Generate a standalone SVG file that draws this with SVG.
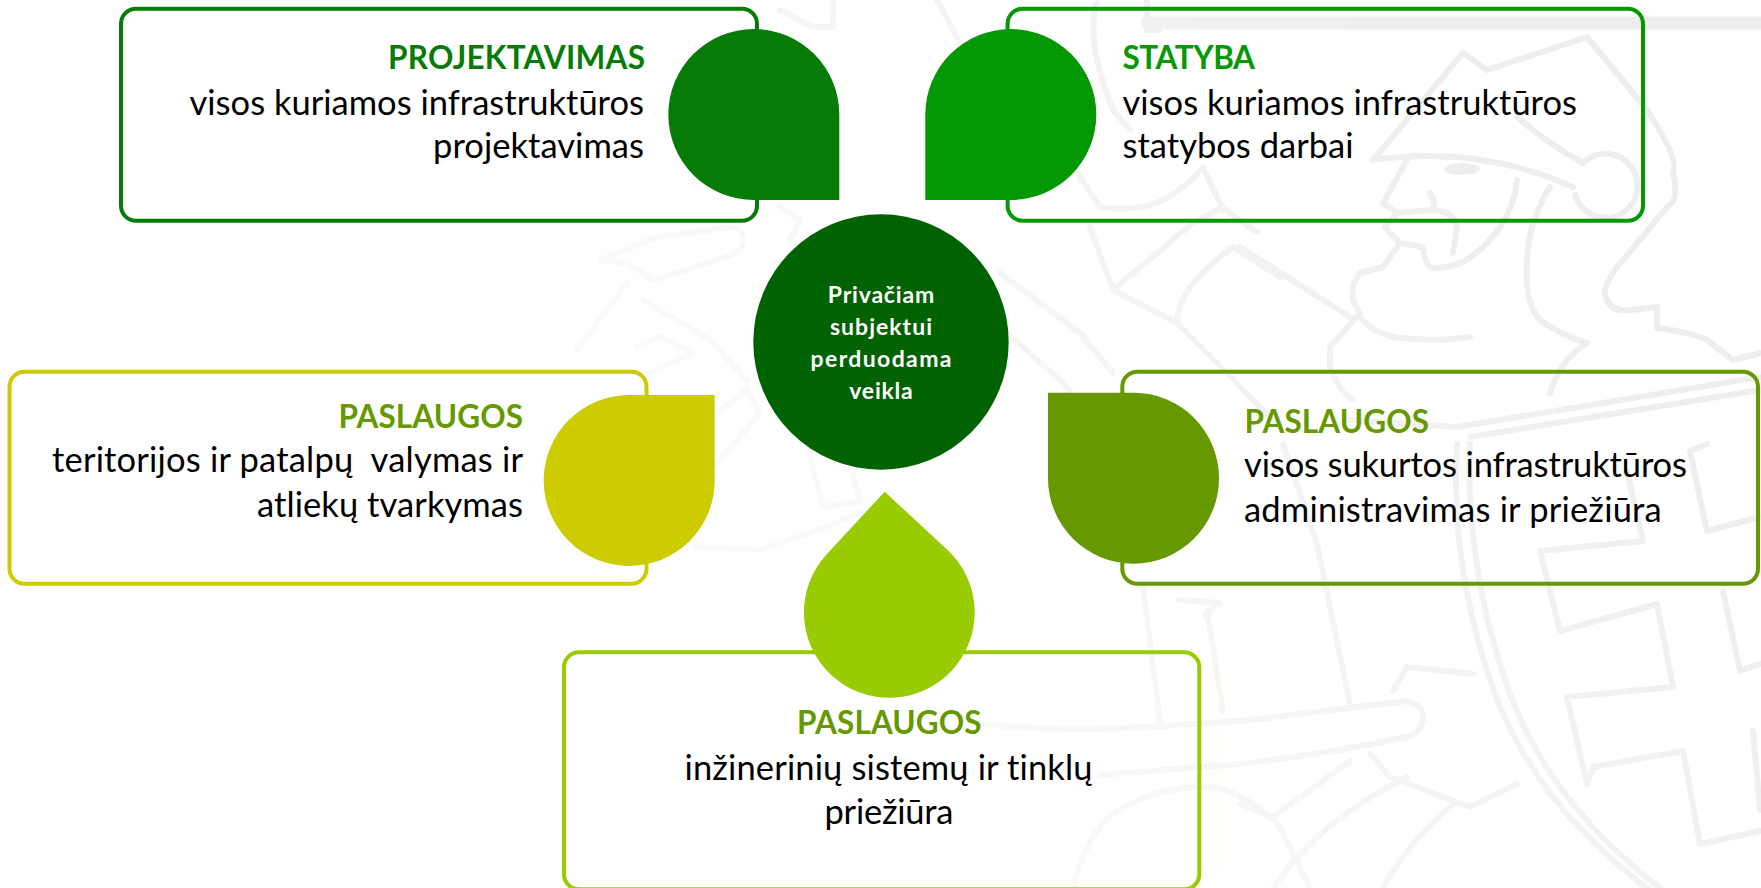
<svg xmlns="http://www.w3.org/2000/svg" width="1761" height="888" viewBox="0 0 1761 888">
<style>
text{font-family:Lato,"Carlito","Open Sans",sans-serif;font-size:34.5px;fill:#000;white-space:pre;font-variant-ligatures:none}
.t{font-weight:700;font-size:31.5px}
.e{text-anchor:end}
.m{text-anchor:middle}
.c{font-size:23px;font-weight:700;fill:#fff}
.box{fill:none;stroke-width:4}
.wm path{fill:none;stroke:url(#wmg);stroke-width:6;stroke-linejoin:round;stroke-linecap:round}
</style>
<defs>
<linearGradient id="wmg" gradientUnits="userSpaceOnUse" x1="650" y1="650" x2="1450" y2="100">
<stop offset="0" stop-color="#fcfcfc"/><stop offset="0.55" stop-color="#f5f5f5"/><stop offset="1" stop-color="#eeeeee"/>
</linearGradient>
</defs>
<rect width="1761" height="888" fill="#fff"/>
<g id="watermark" class="wm">
<path style="stroke-width:13" d="M1147,23H1761"/>
<path d="M1147,0V30H1160"/>
<path d="M1097,0Q1085,40 1113,110L1130,130"/>
<path d="M1373,160L1463,53L1487,70L1587,37L1647,110Q1680,160 1673,173Q1680,200 1667,207Q1640,240 1617,267Q1600,290 1607,300Q1612,312 1630,310L1657,307V328Q1690,332 1707,340L1733,360L1761,353"/>
<path d="M1373,160Q1480,145 1573,187"/>
<path d="M1517,117Q1550,145 1583,163"/>
<path d="M1583,163A32,32 0 1 1 1575,195"/>
<path d="M1407,160L1383,203L1397,213L1385,227L1400,243L1383,267L1360,273Q1350,285 1353,300L1360,313L1330,347V367Q1338,390 1353,400"/>
<path d="M1397,213L1433,210Q1455,212 1457,227L1453,253"/>
<path d="M1430,193Q1436,200 1433,210"/>
<path d="M1400,243L1423,247Q1425,265 1432,268Q1470,270 1500,227Q1515,205 1517,180"/>
<path d="M1550,187Q1530,220 1528,250Q1522,300 1540,320Q1560,335 1587,343Q1560,360 1550,393"/>
<path d="M1360,317Q1375,335 1400,338Q1440,342 1470,337"/>
<ellipse cx="1462" cy="169" rx="18" ry="6" fill="#eeeeee"/>
<path d="M1240,247L1350,317"/>
<path d="M1223,207Q1245,225 1257,232"/>
<path d="M1457,427L1760,377"/>
<path d="M1470,437L1760,390"/>
<path d="M1350,420L1457,427"/>
<path d="M1457,444Q1450,560 1490,680Q1530,800 1647,888"/>
<path d="M1470,444Q1465,560 1505,680Q1545,800 1660,888"/>
<path d="M1627,471L1643,541L1540,551L1560,631L1657,604L1673,687L1567,697L1587,784L1593,767L1683,751L1700,844L1760,831"/>
<path d="M1707,444L1690,451L1707,531L1760,517"/>
<path d="M1723,591L1740,671L1760,664"/>
<path d="M1753,731L1760,810"/>
<path d="M980,724Q1060,732 1147,727L1240,721L1407,701Q1423,705 1423,717Q1422,732 1407,737Q1320,755 1240,764L1100,775"/>
<path d="M1283,444L1317,544L1350,704"/>
<path d="M1143,587L1160,721"/>
<path d="M1207,611L1223,711"/>
<path d="M1178,600L1220,603L1205,615"/>
<path d="M1393,691L1407,667L1473,674"/>
<path d="M1370,754L1390,777L1470,807L1517,784"/>
<path d="M1240,804L1273,817L1350,761"/>
<path d="M1273,888Q1320,820 1407,777"/>
<path d="M1383,888Q1410,840 1453,804"/>
<path d="M1073,888Q1090,820 1130,804Q1170,785 1213,787Q1250,795 1280,827L1310,888"/>
<path d="M1000,273L1080,333L1113,373"/>
<path d="M1007,333L1063,383L1113,443"/>
<path d="M1113,290L1193,223L1223,207"/>
<path d="M1090,227L1113,290L1177,323L1227,373L1280,427"/>
<path d="M1177,320Q1180,285 1233,247L1280,277"/>
<path d="M1073,167L1100,207Q1130,212 1157,203Q1185,190 1203,167L1223,210"/>
<path d="M937,0L960,43"/>
<path d="M780,10L813,27H833V0"/>
<path d="M780,207L800,220L790,240"/>
<path d="M600,260L657,237L733,227Q745,232 743,243Q740,252 727,257L653,280L627,263L600,260"/>
<path d="M627,283L577,350"/>
<path d="M643,300L710,340L747,380"/>
<path d="M637,347L660,337L693,353L650,373"/>
<path d="M717,413L747,390L760,413L717,463"/>
<path d="M693,547L760,550L810,533L860,513"/>
<path d="M807,444L823,507L860,501L853,474"/>
</g>
<g id="node-projektavimas">
<rect class="box" x="121" y="8.7" width="636" height="212" rx="15" stroke="#067c06"/>
<path fill="#067c06" d="M839.3,200H753.8A85.5,85.5 0 1 1 839.3,114.5Z"/>
<text class="t e" x="645" y="69" style="fill:#067c06" textLength="257">PROJEKTAVIMAS</text>
<text class="e" x="644" y="115" textLength="454.5">visos kuriamos infrastruktūros</text>
<text class="e" x="644" y="158.3" textLength="211">projektavimas</text>
</g>
<g id="node-statyba">
<rect class="box" x="1007.6" y="8.7" width="635.4" height="212" rx="15" stroke="#049904"/>
<path fill="#049904" d="M925.3,200H1010.8A85.5,85.5 0 1 0 925.3,114.5Z"/>
<text class="t" x="1122.5" y="69" style="fill:#049904" textLength="132.5">STATYBA</text>
<text x="1122.5" y="115" textLength="454.5">visos kuriamos infrastruktūros</text>
<text x="1122.5" y="158.3" textLength="231">statybos darbai</text>
</g>
<g id="node-paslaugos-valymas">
<rect class="box" x="9.5" y="371.7" width="637" height="212" rx="15" stroke="#cccc00"/>
<path fill="#cccc00" d="M714.7,395H629.2A85.5,85.5 0 1 0 714.7,480.5Z"/>
<text class="t e" x="523" y="427.5" style="fill:#669900" textLength="184.5">PASLAUGOS</text>
<text class="e" x="523" y="471.7" textLength="471">teritorijos ir patalpų  valymas ir</text>
<text class="e" x="523" y="516.7" textLength="266">atliekų tvarkymas</text>
</g>
<g id="node-paslaugos-administravimas">
<rect class="box" x="1122.3" y="371.7" width="635.7" height="212" rx="15" stroke="#669900"/>
<path fill="#669900" d="M1048,392.7H1133.5A85.5,85.5 0 1 1 1048,478.2Z"/>
<text class="t" x="1244.5" y="432.5" style="fill:#669900" textLength="184.5">PASLAUGOS</text>
<text x="1244" y="476.7" textLength="443">visos sukurtos infrastruktūros</text>
<text x="1244" y="521.7" textLength="417.7">administravimas ir priežiūra</text>
</g>
<g id="node-paslaugos-inzinerines">
<rect class="box" x="564" y="652.3" width="635.3" height="237" rx="15" stroke="#99cc00"/>
<path fill="#99cc00" d="M884.7,491.7L947.3,549.7A85.4,85.4 0 1 1 826.7,554.3Z"/>
<text class="t m" x="889.3" y="734" style="fill:#669900" textLength="184.7">PASLAUGOS</text>
<text class="m" x="888.5" y="780" textLength="408">inžinerinių sistemų ir tinklų</text>
<text class="m" x="889" y="824.3" textLength="129">priežiūra</text>
</g>
<g id="node-center">
<circle cx="881" cy="342" r="127.7" fill="#006200"/>
<text class="c m" x="881" y="303" textLength="106.3">Privačiam</text>
<text class="c m" x="881" y="334.6" textLength="102">subjektui</text>
<text class="c m" x="881" y="367" textLength="141">perduodama</text>
<text class="c m" x="881" y="398.6" textLength="63.3">veikla</text>
</g>
</svg>
